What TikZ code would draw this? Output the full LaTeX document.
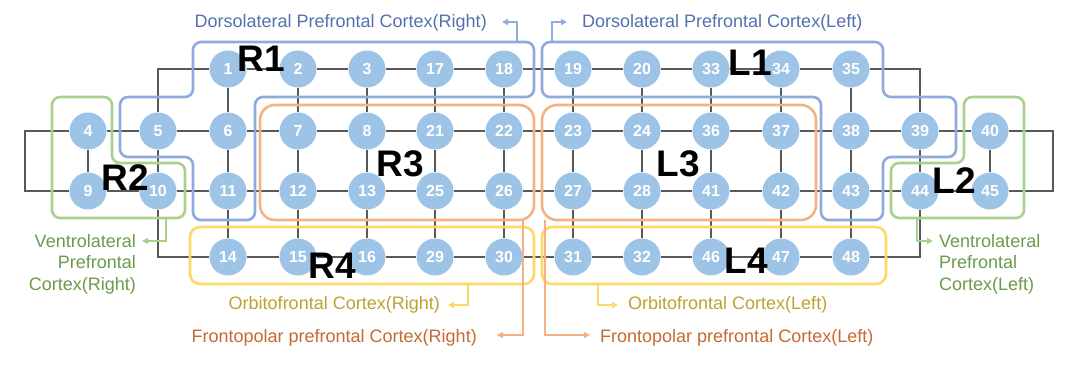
\documentclass[tikz,border=0pt]{standalone}
\usepackage{fontspec}
\setmainfont{Liberation Sans}
\usetikzlibrary{arrows.meta,backgrounds,calc}
\definecolor{nodefill}{HTML}{9DC3E6}
\definecolor{gridgray}{HTML}{595959}
\definecolor{bluebox}{HTML}{8FAADC}
\definecolor{bluetxt}{HTML}{5370AE}
\definecolor{greenbox}{HTML}{A9D18E}
\definecolor{greentxt}{HTML}{6A9A4A}
\definecolor{orangebox}{HTML}{F4B183}
\definecolor{orangetxt}{HTML}{C46A30}
\definecolor{yellowbox}{HTML}{FFD966}
\definecolor{yellowtxt}{HTML}{C0A030}
\begin{document}
\begin{tikzpicture}[x=1pt,y=-1pt,
  num/.style={circle,fill=nodefill,minimum size=37pt,inner sep=0pt,text=white,font=\fontsize{16}{16}\selectfont\bfseries},
  grid/.style={draw=gridgray,line width=1.8pt},
  region/.style={line width=2.6pt,rounded corners=8pt},
  conn/.style={line width=2pt,-{Triangle[length=6pt,width=6pt]}},
  small/.style={inner sep=0pt,font=\fontsize{18}{21.5}\selectfont},
  lab/.style={inner sep=0pt,font=\fontsize{37}{37}\selectfont\bfseries,text=black}]
\useasboundingbox (0,0) rectangle (1080,375);
\foreach \n/\x/\y in {
1/228/69,2/298/69,3/367/69,17/435/69,18/504/69,19/573/69,20/642/69,33/711/69,34/781/69,35/851/69,
4/88/131,5/158/131,6/228/131,7/298/131,8/367/131,21/435/131,22/504/131,23/573/131,24/642/131,36/711/131,37/781/131,38/851/131,39/920/131,40/990/131,
9/88/191,10/158/191,11/228/191,12/298/191,13/367/191,25/435/191,26/504/191,27/573/191,28/642/191,41/711/191,42/781/191,43/851/191,44/920/191,45/990/191,
14/228/257,15/298/257,16/367/257,29/435/257,30/504/257,31/573/257,32/642/257,46/711/257,47/781/257,48/851/257}
  \node[num] (n\n) at (\x,\y) {\n};
\coordinate (gl) at (25,0);
\coordinate (gr) at (1053,0);
\begin{pgfonlayer}{background}
\foreach \a/\b in {1/2,2/3,3/17,17/18,18/19,19/20,20/33,33/34,34/35,
4/5,5/6,6/7,7/8,8/21,21/22,22/23,23/24,24/36,36/37,37/38,38/39,39/40,
9/10,10/11,11/12,12/13,13/25,25/26,26/27,27/28,28/41,41/42,42/43,43/44,44/45,
14/15,15/16,16/29,29/30,30/31,31/32,32/46,46/47,47/48,
1/6,6/11,11/14,2/7,7/12,12/15,3/8,8/13,13/16,17/21,21/25,25/29,18/22,22/26,26/30,
19/23,23/27,27/31,20/24,24/28,28/32,33/36,36/41,41/46,34/37,37/42,42/47,35/38,38/43,43/48,
4/9,5/10,39/44,40/45}
  \draw[grid] (n\a) -- (n\b);
\draw[grid] (n1) -| (n5);
\draw[grid] (n35) -| (n39);
\draw[grid] (n10) |- (n14);
\draw[grid] (n44) |- (n48);
\draw[grid] (n4) -- (n4 -| gl) -- (n9 -| gl) -- (n9);
\draw[grid] (n40) -- (n40 -| gr) -- (n45 -| gr) -- (n45);
% regions
\draw[region,draw=bluebox] (193,42) -- (534,42) -- (534,97) -- (255,97) -- (255,220) -- (193,220) -- (193,157) -- (120,157) -- (120,97) -- (193,97) -- cycle;
\draw[region,draw=bluebox] (883,42) -- (542,42) -- (542,97) -- (821,97) -- (821,220) -- (883,220) -- (883,157) -- (956,157) -- (956,97) -- (883,97) -- cycle;
\draw[region,draw=greenbox] (52,97) -- (112,97) -- (112,163) -- (185,163) -- (185,218) -- (52,218) -- cycle;
\draw[region,draw=greenbox] (1024,97) -- (964,97) -- (964,163) -- (891,163) -- (891,218) -- (1024,218) -- cycle;
\draw[region,draw=orangebox,rounded corners=15pt] (260,105) rectangle (534,220);
\draw[region,draw=orangebox,rounded corners=15pt] (542,105) rectangle (816,220);
\draw[region,draw=yellowbox,rounded corners=10pt] (190,227) rectangle (534,284);
\draw[region,draw=yellowbox,rounded corners=10pt] (542,227) rectangle (886,284);
\end{pgfonlayer}
% connectors
\coordinate (r1s) at (517,42); \coordinate (r1e) at (502,22);
\coordinate (l1s) at (552,42); \coordinate (l1e) at (567,22);
\coordinate (r2s) at (166,218); \coordinate (r2e) at (142,241);
\coordinate (l2s) at (917,218); \coordinate (l2e) at (933,241);
\coordinate (r3s) at (523,220); \coordinate (r3e) at (497,335);
\coordinate (l3s) at (545,220); \coordinate (l3e) at (590,335);
\coordinate (r4s) at (468,284); \coordinate (r4e) at (448,305);
\coordinate (l4s) at (598,284); \coordinate (l4e) at (618,305);
\draw[conn,draw=bluebox] (r1s) |- (r1e);
\draw[conn,draw=bluebox] (l1s) |- (l1e);
\draw[conn,draw=greenbox] (r2s) |- (r2e);
\draw[conn,draw=greenbox] (l2s) |- (l2e);
\draw[conn,draw=orangebox] (r3s) |- (r3e);
\draw[conn,draw=orangebox] (l3s) |- (l3e);
\draw[conn,draw=yellowbox] (r4s) |- (r4e);
\draw[conn,draw=yellowbox] (l4s) |- (l4e);
% texts
\node[small,text=bluetxt,anchor=base east] (tR1) at (487,27) {Dorsolateral Prefrontal Cortex(Right)};
\node[small,text=bluetxt,anchor=base west] (tL1) at (582,27) {Dorsolateral Prefrontal Cortex(Left)};
\node[small,text=greentxt,anchor=north east,align=right] (tR2) at (136,234) {Ventrolateral\\Prefrontal\\Cortex(Right)};
\node[small,text=greentxt,anchor=north west,align=left] (tL2) at (939,234) {Ventrolateral\\Prefrontal\\Cortex(Left)};
\node[small,text=yellowtxt,anchor=base east] (tR4) at (440,309) {Orbitofrontal Cortex(Right)};
\node[small,text=yellowtxt,anchor=base west] (tL4) at (628,309) {Orbitofrontal Cortex(Left)};
\node[small,text=orangetxt,anchor=base east] (tR3) at (477,342) {Frontopolar prefrontal Cortex(Right)};
\node[small,text=orangetxt,anchor=base west] (tL3) at (600,342) {Frontopolar prefrontal Cortex(Left)};
% region labels
\node[lab] (R1) at (261,59) {R1};
\node[lab] (R2) at (125,178) {R2};
\node[lab] (R3) at (400,164) {R3};
\node[lab] (R4) at (332,266) {R4};
\node[lab] (L1) at (750,63) {L1};
\node[lab] (L2) at (954,181) {L2};
\node[lab] (L3) at (678,164) {L3};
\node[lab] (L4) at (746,261) {L4};
\end{tikzpicture}
\end{document}
